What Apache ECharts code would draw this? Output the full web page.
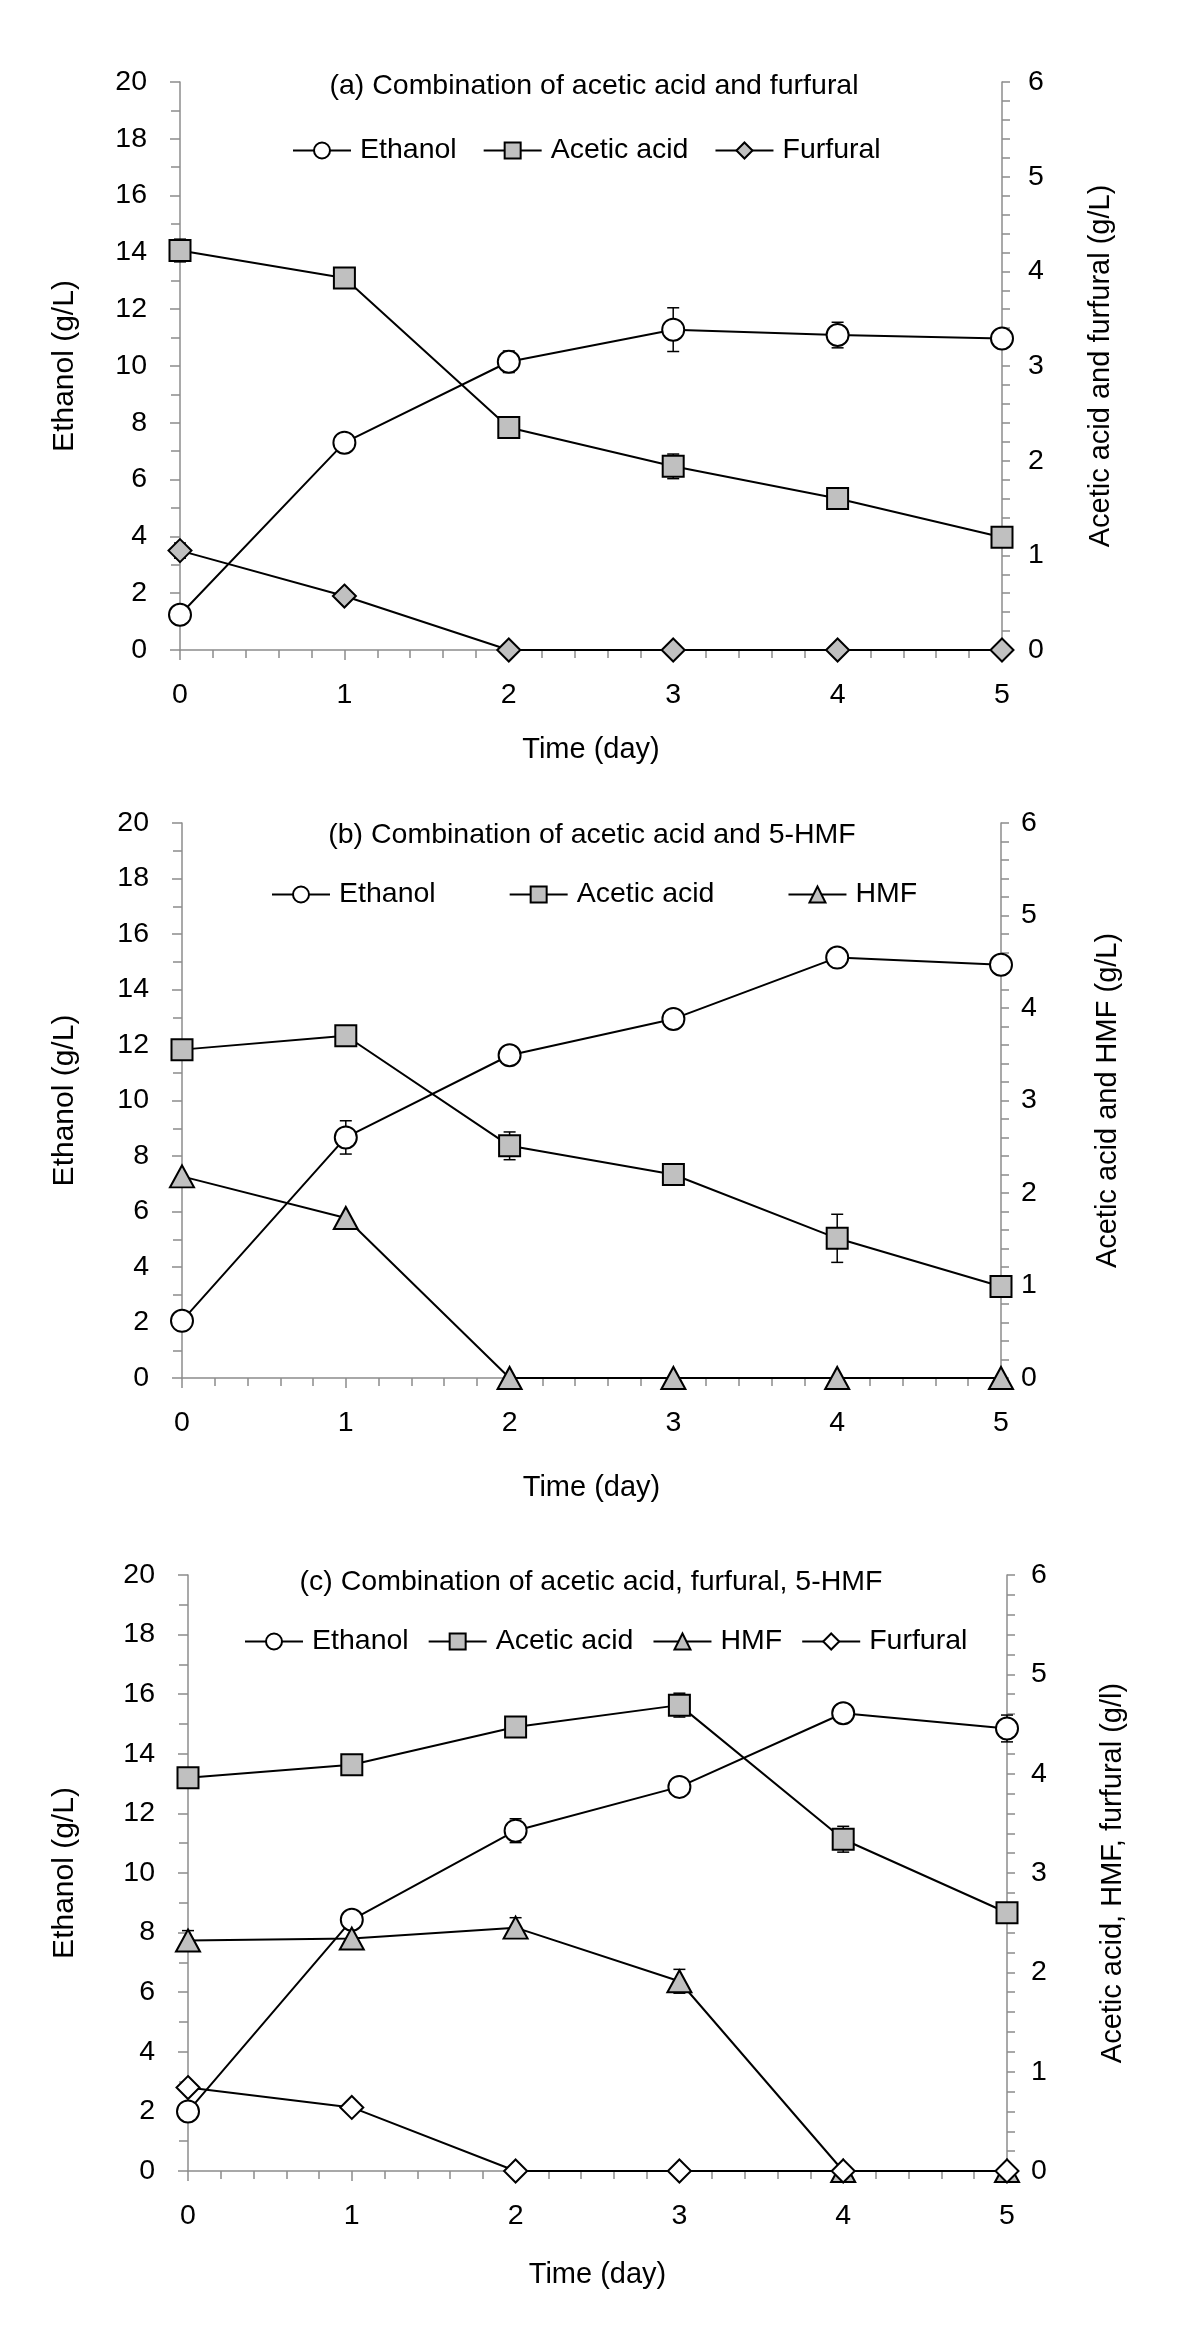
<!DOCTYPE html>
<html>
<head>
<meta charset="utf-8">
<script src="https://cdn.jsdelivr.net/npm/echarts@6/dist/echarts.min.js"></script>
<style>
html,body{margin:0;padding:0;background:#fff;}
.p{position:absolute;left:0;width:1200px;}
</style>
</head>
<body>
<div id="ca" class="p" style="top:0;height:780px;"></div>
<div id="cb" class="p" style="top:780px;height:760px;"></div>
<div id="cc" class="p" style="top:1540px;height:804px;"></div>
<script>
// ---------- data ----------
const days = [0, 1, 2, 3, 4, 5];
const xTickLabels = ['0', '1', '2', '3', '4', '5'];

// (a) acetic acid + furfural
const aEthanol = [1.24, 7.30, 10.15, 11.28, 11.09, 10.97];
const aEthanolErr = [0, 0, 0.38, 0.77, 0.45, 0];
const aAcetic = [4.22, 3.93, 2.35, 1.94, 1.60, 1.19];
const aAceticErr = [0.12, 0, 0, 0.13, 0, 0];
const aFurfural = [1.05, 0.57, 0, 0, 0, 0];
const aFurfuralErr = [0.08, 0, 0, 0, 0, 0];

// (b) acetic acid + 5-HMF
const bEthanol = [2.06, 8.67, 11.63, 12.94, 15.15, 14.89];
const bEthanolErr = [0, 0.6, 0, 0, 0, 0];
const bAcetic = [3.55, 3.70, 2.51, 2.20, 1.51, 0.99];
const bAceticErr = [0, 0, 0.15, 0, 0.26, 0];
const bHMF = [2.18, 1.73, 0, 0, 0, 0];
const bHMFErr = [0, 0, 0, 0, 0, 0];

// (c) acetic acid + furfural + 5-HMF
const cEthanol = [2.0, 8.43, 11.42, 12.89, 15.36, 14.85];
const cEthanolErr = [0, 0, 0.4, 0, 0.25, 0.45];
const cAcetic = [3.96, 4.09, 4.47, 4.69, 3.34, 2.60];
const cAceticErr = [0, 0, 0, 0.12, 0.13, 0];
const cHMF = [2.32, 2.34, 2.45, 1.91, 0, 0];
const cHMFErr = [0.1, 0, 0.1, 0.12, 0, 0];
const cFurfural = [0.84, 0.64, 0, 0, 0, 0];
const cFurfuralErr = [0, 0, 0, 0, 0, 0];

// ---------- helpers ----------
const FONT = '"Liberation Sans", Arial, sans-serif';
const GRAY = '#c0c0c0';
const AXC = '#8c8c8c';

function pts(v) { return days.map((d, i) => [d, v[i]]); }

function lineSeries(name, v, yIdx, symbol, size, fill) {
  return {
    type: 'line', name: name, data: pts(v), yAxisIndex: yIdx,
    symbol: symbol, symbolSize: size, showAllSymbol: true,
    lineStyle: { color: '#000', width: 2 },
    itemStyle: { color: fill, borderColor: '#000', borderWidth: 2 },
    z: 3, animation: false, silent: true
  };
}

function errSeries(v, err, yIdx) {
  return {
    type: 'custom', yAxisIndex: yIdx, z: 1, silent: true, animation: false,
    data: days.map((d, i) => [d, v[i], err[i]]),
    encode: { x: 0, y: 1 },
    renderItem: function (params, api) {
      const x = api.value(0), y = api.value(1), e = api.value(2);
      if (!e) return null;
      const t = api.coord([x, y + e]);
      const b = api.coord([x, y - e]);
      const c = 6;
      const st = { stroke: '#000', lineWidth: 1.5 };
      return {
        type: 'group', children: [
          { type: 'line', shape: { x1: t[0], y1: t[1], x2: b[0], y2: b[1] }, style: st },
          { type: 'line', shape: { x1: t[0] - c, y1: t[1], x2: t[0] + c, y2: t[1] }, style: st },
          { type: 'line', shape: { x1: b[0] - c, y1: b[1], x2: b[0] + c, y2: b[1] }, style: st }
        ]
      };
    }
  };
}

function build(cfg) {
  return {
    animation: false,
    backgroundColor: '#fff',
    textStyle: { fontFamily: FONT, color: '#000' },
    title: {
      text: cfg.title, left: cfg.titleX, top: cfg.titleY, textAlign: 'center', padding: 0,
      textStyle: { fontFamily: FONT, fontSize: 28.5, fontWeight: 'normal', color: '#000' }
    },
    legend: {
      data: cfg.legend, left: cfg.legX, top: cfg.legY, itemGap: cfg.legGap,
      itemWidth: 58, itemHeight: 20, padding: 0, selectedMode: false,
      textStyle: { fontFamily: FONT, fontSize: 28.5, color: '#000', padding: [0, 0, 0, 4] }
    },
    grid: { left: cfg.grid[0], top: cfg.grid[1], width: cfg.grid[2], height: cfg.grid[3] },
    xAxis: {
      type: 'value', min: 0, max: 5, interval: 1,
      name: 'Time (day)', nameLocation: 'middle', nameGap: cfg.xNameGap,
      nameTextStyle: { fontFamily: FONT, fontSize: 29, color: '#000' },
      axisLine: { show: true, onZero: false, lineStyle: { color: AXC, width: 1.5 } },
      axisTick: { show: true, length: 10, lineStyle: { color: AXC, width: 1.5 } },
      minorTick: { show: true, splitNumber: 5, length: 8, lineStyle: { color: AXC, width: 1.5 } },
      splitLine: { show: false },
      axisLabel: { margin: 31, fontFamily: FONT, fontSize: 28.5, color: '#000',
        formatter: function (v) { return xTickLabels[v]; } }
    },
    yAxis: [{
      type: 'value', position: 'left', min: 0, max: 20, interval: 2,
      name: 'Ethanol (g/L)', nameLocation: 'middle', nameGap: cfg.lNameGap, nameRotate: 90,
      nameTextStyle: { fontFamily: FONT, fontSize: 30, color: '#000' },
      axisLine: { show: true, lineStyle: { color: AXC, width: 1.5 } },
      axisTick: { show: true, length: 10, lineStyle: { color: AXC, width: 1.5 } },
      minorTick: { show: true, splitNumber: 2, length: 9, lineStyle: { color: AXC, width: 1.5 } },
      splitLine: { show: false },
      axisLabel: { margin: cfg.lLabMargin, fontFamily: FONT, fontSize: 28.5, color: '#000' }
    }, {
      type: 'value', position: 'right', min: 0, max: 6, interval: 1,
      name: cfg.rName, nameLocation: 'middle', nameGap: cfg.rNameGap, nameRotate: 90,
      nameTextStyle: { fontFamily: FONT, fontSize: 29, color: '#000' },
      axisLine: { show: true, lineStyle: { color: AXC, width: 1.5 } },
      axisTick: { show: true, length: 8, lineStyle: { color: AXC, width: 1.5 } },
      minorTick: { show: true, splitNumber: 5, length: 8, lineStyle: { color: AXC, width: 1.5 } },
      splitLine: { show: false },
      axisLabel: { margin: cfg.rLabMargin, fontFamily: FONT, fontSize: 28.5, color: '#000' }
    }],
    series: cfg.series
  };
}

// ---------- panel (a) ----------
echarts.init(document.getElementById('ca'), null, { renderer: 'canvas' }).setOption(build({
  title: '(a) Combination of acetic acid and furfural', titleX: 594, titleY: 72,
  legend: ['Ethanol', 'Acetic acid', 'Furfural'], legX: 292, legY: 136, legGap: 26,
  grid: [180, 82, 822, 568],
  xNameGap: 85, lNameGap: 100, rNameGap: 84, lLabMargin: 33, rLabMargin: 26,
  rName: 'Acetic acid and furfural (g/L)',
  series: [
    errSeries(aEthanol, aEthanolErr, 0),
    errSeries(aAcetic, aAceticErr, 1),
    errSeries(aFurfural, aFurfuralErr, 1),
    lineSeries('Ethanol', aEthanol, 0, 'circle', 22, '#fff'),
    lineSeries('Acetic acid', aAcetic, 1, 'rect', 21, GRAY),
    lineSeries('Furfural', aFurfural, 1, 'diamond', 23, GRAY)
  ]
}));

// ---------- panel (b) ----------
echarts.init(document.getElementById('cb'), null, { renderer: 'canvas' }).setOption(build({
  title: '(b) Combination of acetic acid and 5-HMF', titleX: 592, titleY: 41,
  legend: ['Ethanol', 'Acetic acid', 'HMF'], legX: 271, legY: 100, legGap: 73,
  grid: [182, 43, 819, 555],
  xNameGap: 95, lNameGap: 102, rNameGap: 92, lLabMargin: 33, rLabMargin: 20,
  rName: 'Acetic acid and HMF (g/L)',
  series: [
    errSeries(bEthanol, bEthanolErr, 0),
    errSeries(bAcetic, bAceticErr, 1),
    errSeries(bHMF, bHMFErr, 1),
    lineSeries('Ethanol', bEthanol, 0, 'circle', 22, '#fff'),
    lineSeries('Acetic acid', bAcetic, 1, 'rect', 21, GRAY),
    lineSeries('HMF', bHMF, 1, 'triangle', [24, 22], GRAY)
  ]
}));

// ---------- panel (c) ----------
echarts.init(document.getElementById('cc'), null, { renderer: 'canvas' }).setOption(build({
  title: '(c) Combination of acetic acid, furfural, 5-HMF', titleX: 591, titleY: 28,
  legend: ['Ethanol', 'Acetic acid', 'HMF', 'Furfural'], legX: 244, legY: 87, legGap: 19,
  grid: [188, 35, 819, 596],
  xNameGap: 89, lNameGap: 108, rNameGap: 91, lLabMargin: 33, rLabMargin: 24,
  rName: 'Acetic acid, HMF, furfural (g/l)',
  series: [
    errSeries(cEthanol, cEthanolErr, 0),
    errSeries(cAcetic, cAceticErr, 1),
    errSeries(cHMF, cHMFErr, 1),
    errSeries(cFurfural, cFurfuralErr, 1),
    lineSeries('Ethanol', cEthanol, 0, 'circle', 22, '#fff'),
    lineSeries('Acetic acid', cAcetic, 1, 'rect', 21, GRAY),
    lineSeries('HMF', cHMF, 1, 'triangle', [24, 22], GRAY),
    lineSeries('Furfural', cFurfural, 1, 'diamond', 23, '#fff')
  ]
}));
</script>
</body>
</html>
